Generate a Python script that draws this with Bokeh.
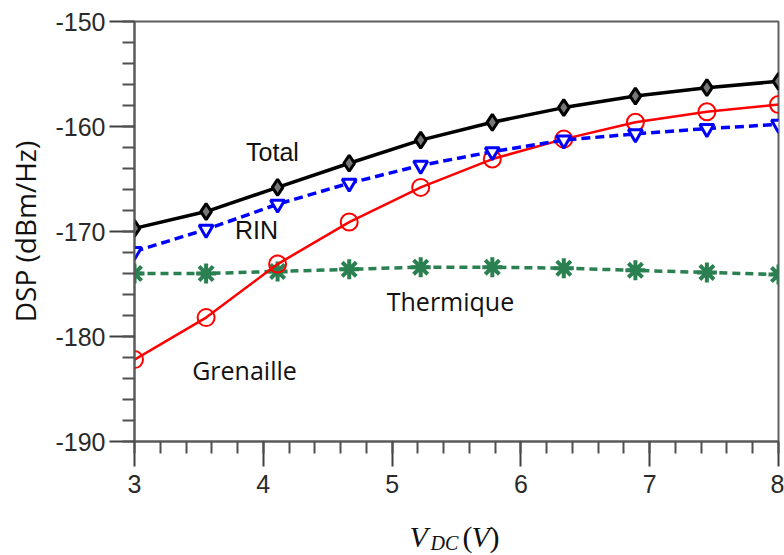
import numpy as np
from bokeh.plotting import figure
from bokeh.layouts import column
from bokeh.models import Label, SingleIntervalTicker, Range1d, PrintfTickFormatter
from bokeh.embed import file_html
from bokeh.resources import INLINE

# ---- data ----
vdc = [3.0, 3.556, 4.111, 4.667, 5.222, 5.778, 6.333, 6.889, 7.444, 8.0]
total = [-169.7, -168.1, -165.8, -163.5, -161.3, -159.6, -158.2, -157.1, -156.3, -155.7]
rin = [-171.9, -169.8, -167.4, -165.4, -163.7, -162.4, -161.3, -160.7, -160.2, -159.8]
grenaille = [-182.2, -178.2, -173.1, -169.1, -165.8, -163.1, -161.2, -159.6, -158.6, -157.9]
thermique = [-174.0, -174.0, -173.8, -173.6, -173.4, -173.4, -173.5, -173.7, -173.9, -174.1]

W = 784
H_MAIN = 505
H_XLAB = 50

p = figure(width=W, height=H_MAIN, output_backend="svg", toolbar_location=None,
           x_range=Range1d(3, 8), y_range=Range1d(-190, -150),
           min_border_left=134, min_border_right=6, min_border_top=21,
           min_border_bottom=64)
p.frame_width = 644
p.frame_height = 420
p.xgrid.visible = False
p.ygrid.visible = False
p.background_fill_color = "white"
p.border_fill_color = "white"
p.outline_line_color = "#5f5f5f"
p.outline_line_width = 2

for ax in (p.xaxis[0], p.yaxis[0]):
    ax.axis_line_color = "#5a5a5a"
    ax.axis_line_width = 2
    ax.major_tick_line_color = "#404040"
    ax.major_tick_line_width = 2
    ax.minor_tick_line_color = "#505050"
    ax.minor_tick_line_width = 2
    ax.major_tick_in = 0
    ax.major_tick_out = 25
    ax.minor_tick_in = 0
    ax.minor_tick_out = 12
    ax.major_label_text_font = "Liberation Sans"
    ax.major_label_text_font_size = "25px"
    ax.major_label_text_color = "#2a2a2a"
    ax.formatter = PrintfTickFormatter(format="%d")

p.xaxis[0].ticker = SingleIntervalTicker(interval=1, num_minor_ticks=5)
p.yaxis[0].ticker = SingleIntervalTicker(interval=10, num_minor_ticks=5)
p.xaxis[0].major_label_standoff = 8
p.yaxis[0].major_label_standoff = 4

p.yaxis[0].axis_label = "DSP (dBm/Hz)"
p.yaxis[0].axis_label_text_font = "Open Sans"
p.yaxis[0].axis_label_text_font_style = "normal"
p.yaxis[0].axis_label_text_font_size = "28px"
p.yaxis[0].axis_label_text_color = "#111111"
p.yaxis[0].axis_label_standoff = 8

# ---- series ----
green = "#2a8050"
p.line(vdc, thermique, line_color=green, line_width=3.5, line_dash="8 5")
p.scatter(vdc, thermique, marker="asterisk", size=20, line_color=green, line_width=4)

p.line(vdc, grenaille, line_color="#ff0000", line_width=2.5)
p.scatter(vdc, grenaille, marker="circle", size=17, line_color="#ff0000",
          fill_color=None, line_width=2)

p.line(vdc, rin, line_color="#0000ff", line_width=3.5, line_dash="9 5")
p.scatter(vdc, rin, marker="inverted_triangle", size=14, line_color="#0000ff",
          fill_color="white", line_width=3)

p.line(vdc, total, line_color="black", line_width=3.5)
p.scatter(vdc, total, marker="diamond", size=16, line_color="black",
          fill_color="#777777", line_width=3)

# ---- annotations inside the plot ----
def px(xw):
    return 3 + (xw - 134) / 128.8

def py(yw):
    return -150 - (yw - 21) / 10.5

def lab(fig, x, y, t, font, size, **kw):
    fig.add_layout(Label(x=x, y=y, text=t, text_font=font, text_font_size=size,
                         text_color=kw.pop("color", "#111111"), **kw))

lab(p, px(272), py(151), "Total", "Liberation Sans", "25px", text_align="center", text_baseline="middle")
lab(p, px(256), py(229), "RIN", "Liberation Sans", "25px", text_align="center", text_baseline="middle")
lab(p, px(450), py(300), "Thermique", "Open Sans", "25px", text_align="center", text_baseline="middle")
lab(p, px(244), py(369), "Grenaille", "Open Sans", "25px", text_align="center", text_baseline="middle")

# ---- x axis title strip: V_DC (V) (its frame aligns with the main frame) ----
q = figure(width=W, height=H_XLAB, output_backend="svg", toolbar_location=None,
           title=None, x_range=Range1d(3, 8), y_range=Range1d(0, H_XLAB),
           x_axis_location=None, y_axis_location=None,
           min_border=0, min_border_left=0, min_border_right=0,
           min_border_top=0, min_border_bottom=0)
q.xgrid.visible = False
q.ygrid.visible = False
q.outline_line_color = None
q.background_fill_color = "white"
q.border_fill_color = "white"

lab(q, px(409), 19, "V", "Liberation Serif", "30px", text_font_style="italic",
    text_align="left", text_baseline="alphabetic")
lab(q, px(430), 13, "DC", "Liberation Serif", "20px", text_font_style="italic",
    text_align="left", text_baseline="alphabetic")
lab(q, px(462), 19, "(", "Liberation Serif", "30px",
    text_align="left", text_baseline="alphabetic")
lab(q, px(471), 19, "V", "Liberation Serif", "30px", text_font_style="italic",
    text_align="left", text_baseline="alphabetic")
lab(q, px(489), 19, ")", "Liberation Serif", "30px",
    text_align="left", text_baseline="alphabetic")

layout = column(p, q, spacing=0)
open("out.html", "w").write(file_html(layout, INLINE))
